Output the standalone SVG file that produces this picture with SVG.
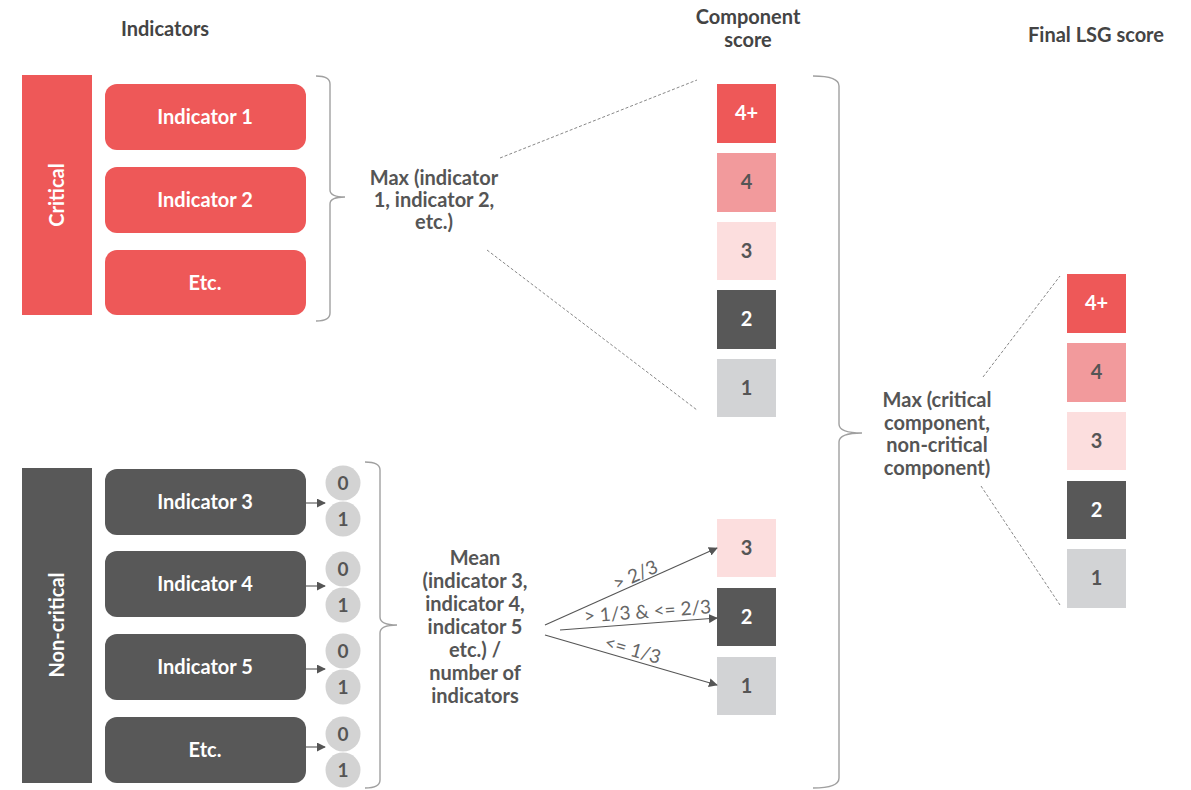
<svg xmlns="http://www.w3.org/2000/svg" width="1191" height="790" viewBox="0 0 1191 790">
<defs>
<style>
.hdr{font-family:Lato,"Liberation Sans",sans-serif;font-weight:bold;font-size:20px;fill:#444;text-anchor:middle}
.box{font-family:Lato,"Liberation Sans",sans-serif;font-weight:bold;font-size:20px;fill:#fff;text-anchor:middle}
.num{font-family:Lato,"Liberation Sans",sans-serif;font-weight:bold;font-size:20px;text-anchor:middle}
.lbl{font-family:Lato,"Liberation Sans",sans-serif;font-weight:bold;font-size:20px;fill:#555;text-anchor:middle}
.thin{font-family:Lato,"Liberation Sans",sans-serif;font-size:19px;fill:#666;text-anchor:middle}
.red{fill:#EE5858}
.dark{fill:#585858}
.brace{fill:none;stroke:#a0a0a0;stroke-width:1.4}
.dash{fill:none;stroke:#888;stroke-width:1;stroke-dasharray:3 2}
.arr{fill:none;stroke:#555;stroke-width:1.1;marker-end:url(#ah)}
.circ{fill:#D3D3D3}
.ctxt{font-family:Lato,"Liberation Sans",sans-serif;font-weight:bold;font-size:19px;fill:#555;text-anchor:middle}
</style>
<marker id="ah" viewBox="0 0 10 10" refX="9" refY="5" markerWidth="9" markerHeight="9" markerUnits="userSpaceOnUse" orient="auto">
<path d="M0,0 L10,5 L0,10 z" fill="#555"/>
</marker>
</defs>
<rect width="1191" height="790" fill="#fff"/>

<g id="headers">
<text class="hdr" x="165" y="36">Indicators</text>
<text class="hdr" x="748" y="24">Component</text>
<text class="hdr" x="748" y="47">score</text>
<text class="hdr" x="1096" y="42">Final LSG score</text>
</g>

<g id="critical">
<rect class="red" x="22" y="75" width="70" height="240"/>
<text class="box" transform="translate(64,195) rotate(-90)">Critical</text>
</g>
<g id="ind1"><rect class="red" x="105" y="84" width="201" height="66" rx="12"/><text class="box" x="205" y="124">Indicator 1</text></g>
<g id="ind2"><rect class="red" x="105" y="167" width="201" height="66" rx="12"/><text class="box" x="205" y="207">Indicator 2</text></g>
<g id="indEtcC"><rect class="red" x="105" y="250" width="201" height="65" rx="12"/><text class="box" x="205" y="290">Etc.</text></g>

<g id="noncritical">
<rect class="dark" x="22" y="468" width="70" height="315"/>
<text class="box" transform="translate(64,625) rotate(-90)">Non-critical</text>
</g>
<g id="ind3"><rect class="dark" x="105" y="469" width="201" height="66" rx="12"/><text class="box" x="205" y="509">Indicator 3</text></g>
<g id="ind4"><rect class="dark" x="105" y="551" width="201" height="66" rx="12"/><text class="box" x="205" y="591">Indicator 4</text></g>
<g id="ind5"><rect class="dark" x="105" y="634" width="201" height="66" rx="12"/><text class="box" x="205" y="674">Indicator 5</text></g>
<g id="indEtcN"><rect class="dark" x="105" y="717" width="201" height="66" rx="12"/><text class="box" x="205" y="757">Etc.</text></g>

<g id="circles">
<circle class="circ" cx="343" cy="483" r="17.5"/><text class="ctxt" x="343" y="490">0</text>
<circle class="circ" cx="343" cy="519" r="17.5"/><text class="ctxt" x="343" y="526">1</text>
<circle class="circ" cx="343" cy="569" r="17.5"/><text class="ctxt" x="343" y="576">0</text>
<circle class="circ" cx="343" cy="605" r="17.5"/><text class="ctxt" x="343" y="612">1</text>
<circle class="circ" cx="343" cy="651" r="17.5"/><text class="ctxt" x="343" y="658">0</text>
<circle class="circ" cx="343" cy="687" r="17.5"/><text class="ctxt" x="343" y="694">1</text>
<circle class="circ" cx="343" cy="734" r="17.5"/><text class="ctxt" x="343" y="741">0</text>
<circle class="circ" cx="343" cy="770" r="17.5"/><text class="ctxt" x="343" y="777">1</text>
</g>

<g id="labels">
<text class="lbl" x="434" y="185">Max (indicator</text>
<text class="lbl" x="434" y="207">1, indicator 2,</text>
<text class="lbl" x="434" y="229">etc.)</text>
<text class="lbl" x="475" y="565">Mean</text>
<text class="lbl" x="475" y="588">(indicator 3,</text>
<text class="lbl" x="475" y="611">indicator 4,</text>
<text class="lbl" x="475" y="634">indicator 5</text>
<text class="lbl" x="475" y="657">etc.) /</text>
<text class="lbl" x="475" y="680">number of</text>
<text class="lbl" x="475" y="703">indicators</text>
<text class="lbl" x="937" y="407">Max (critical</text>
<text class="lbl" x="937" y="430">component,</text>
<text class="lbl" x="937" y="452">non-critical</text>
<text class="lbl" x="937" y="475">component)</text>
<text class="thin" transform="translate(638,581) rotate(-24)">&gt; 2/3</text>
<text class="thin" transform="translate(648,618) rotate(-4.3)">&gt; 1/3 &amp; &lt;= 2/3</text>
<text class="thin" transform="translate(631,656) rotate(16)">&lt;= 1/3</text>
</g>

<g id="compTop">
<rect x="717" y="84" width="59" height="59" fill="#EE5858"/><text class="num" x="746.5" y="120" fill="#fff">4+</text>
<rect x="717" y="153" width="59" height="59" fill="#F29A9C"/><text class="num" x="746.5" y="189" fill="#555">4</text>
<rect x="717" y="222" width="59" height="58" fill="#FCDEDE"/><text class="num" x="746.5" y="258" fill="#555">3</text>
<rect x="717" y="290" width="59" height="59" fill="#585858"/><text class="num" x="746.5" y="326" fill="#fff">2</text>
<rect x="717" y="359" width="59" height="58" fill="#D2D3D5"/><text class="num" x="746.5" y="395" fill="#555">1</text>
</g>
<g id="compBottom">
<rect x="717" y="519" width="59" height="58" fill="#FCDEDE"/><text class="num" x="746.5" y="555" fill="#555">3</text>
<rect x="717" y="588" width="59" height="58" fill="#585858"/><text class="num" x="746.5" y="624" fill="#fff">2</text>
<rect x="717" y="657" width="59" height="58" fill="#D2D3D5"/><text class="num" x="746.5" y="693" fill="#555">1</text>
</g>
<g id="final">
<rect x="1067" y="274" width="59" height="59" fill="#EE5858"/><text class="num" x="1096.5" y="310" fill="#fff">4+</text>
<rect x="1067" y="343" width="59" height="59" fill="#F29A9C"/><text class="num" x="1096.5" y="379" fill="#555">4</text>
<rect x="1067" y="412" width="59" height="58" fill="#FCDEDE"/><text class="num" x="1096.5" y="448" fill="#555">3</text>
<rect x="1067" y="481" width="59" height="58" fill="#585858"/><text class="num" x="1096.5" y="517" fill="#fff">2</text>
<rect x="1067" y="549" width="59" height="59" fill="#D2D3D5"/><text class="num" x="1096.5" y="585" fill="#555">1</text>
</g>

<g id="connectors">
<path class="brace" d="M316,76 Q330,76 330,84 L330,190 Q330,197 345,197 Q330,197 330,204 L330,313 Q330,321 316,321"/>
<path class="brace" d="M365,462 Q380,462 380,470 L380,617 Q380,625 397,625 Q380,625 380,633 L380,780 Q380,788 365,788"/>
<path class="brace" d="M813,76 Q839,76 839,86 L839,424 Q839,433 862,433 Q839,433 839,442 L839,778 Q839,788 813,788"/>
<path class="dash" d="M500,158 L697,80"/>
<path class="dash" d="M487,250 L697,410"/>
<path class="dash" d="M983,377 L1060,276"/>
<path class="dash" d="M981,486 L1060,605"/>
<path class="arr" d="M306,503 L325,503"/>
<path class="arr" d="M306,586 L325,586"/>
<path class="arr" d="M306,669 L325,669"/>
<path class="arr" d="M306,747 L325,747"/>
<path class="arr" d="M545,625 L717,548"/>
<path class="arr" d="M560,630 L717,618"/>
<path class="arr" d="M545,635 L717,685"/>
</g>
</svg>
